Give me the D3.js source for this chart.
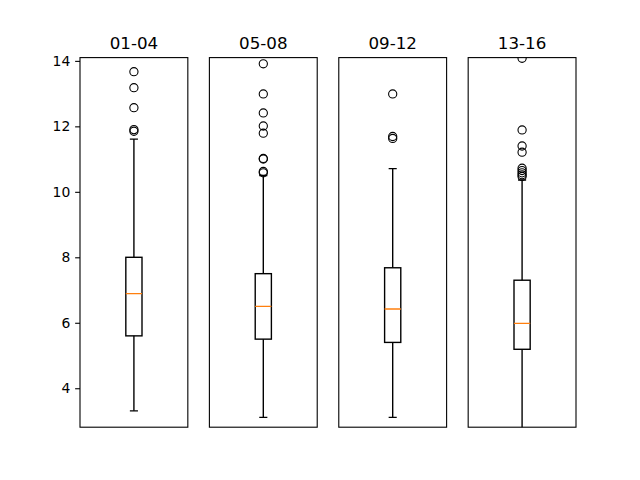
<!DOCTYPE html>
<html>
<head>
<meta charset="utf-8">
<script src="https://cdn.jsdelivr.net/npm/d3@7"></script>
<style>
  body { margin: 0; background: #fff; }
  svg { display: block; }
  text { font-family: "DejaVu Sans", sans-serif; fill: #000; }
</style>
</head>
<body>
<svg id="chart" width="640" height="480"></svg>
<script>
// ---- data ----
const groups = ["01-04", "05-08", "09-12", "13-16"];
const whiskerLow  = [3.31, 3.11, 3.11, 2.70];
const q1          = [5.60, 5.50, 5.40, 5.19];
const medians     = [6.89, 6.50, 6.42, 5.98];
const q3          = [8.00, 7.50, 7.68, 7.30];
const whiskerHigh = [11.61, 10.50, 10.71, 10.36];
const fliers = [
  [11.85, 11.90, 12.57, 13.18, 13.67],
  [10.58, 10.62, 11.00, 11.02, 11.79, 12.01, 12.41, 12.99, 13.91],
  [11.63, 11.69, 12.99],
  [10.47, 10.52, 10.58, 10.65, 10.72, 11.21, 11.40, 11.89, 14.08]
];
const yTicks = [4, 6, 8, 10, 12, 14];
const yDomain = [2.81, 14.10];

// ---- layout ----
const mLeft = 80, mRight = 576, mTop = 57.6, mBottom = 427.2;
const n = groups.length;
const wspace = 0.2;
const pw = (mRight - mLeft) / (n + (n - 1) * wspace);
const gap = pw * wspace;

const svg = d3.select("#chart");
const y = d3.scaleLinear().domain(yDomain).range([mBottom, mTop]);

svg.append("defs").selectAll("clipPath").data(groups).join("clipPath")
  .attr("id", (d, i) => "clip" + i)
  .append("rect")
  .attr("x", (d, i) => mLeft + i * (pw + gap))
  .attr("y", mTop).attr("width", pw).attr("height", mBottom - mTop);

groups.forEach((g, i) => {
  const x0 = mLeft + i * (pw + gap);
  const x = d3.scaleLinear().domain([0.5, 1.5]).range([x0, x0 + pw]);
  const panel = svg.append("g");
  const plot = panel.append("g").attr("clip-path", `url(#clip${i})`);
  const cx = x(1);
  const bw = x(1 + 0.075) - x(1 - 0.075);
  const cw = bw / 2;
  const lw = 1.39;

  // whiskers
  plot.append("line").attr("x1", cx).attr("x2", cx)
    .attr("y1", y(q1[i])).attr("y2", y(whiskerLow[i]))
    .attr("stroke", "#000").attr("stroke-width", lw);
  plot.append("line").attr("x1", cx).attr("x2", cx)
    .attr("y1", y(q3[i])).attr("y2", y(whiskerHigh[i]))
    .attr("stroke", "#000").attr("stroke-width", lw);
  // caps
  [whiskerLow[i], whiskerHigh[i]].forEach(v => {
    plot.append("line").attr("x1", cx - cw / 2).attr("x2", cx + cw / 2)
      .attr("y1", y(v)).attr("y2", y(v))
      .attr("stroke", "#000").attr("stroke-width", lw);
  });
  // box
  plot.append("rect").attr("x", cx - bw / 2).attr("width", bw)
    .attr("y", y(q3[i])).attr("height", y(q1[i]) - y(q3[i]))
    .attr("fill", "none").attr("stroke", "#000").attr("stroke-width", lw);
  // median
  plot.append("line").attr("x1", cx - bw / 2).attr("x2", cx + bw / 2)
    .attr("y1", y(medians[i])).attr("y2", y(medians[i]))
    .attr("stroke", "#ff7f0e").attr("stroke-width", lw);
  // fliers
  plot.selectAll("circle.f").data(fliers[i]).join("circle")
    .attr("class", "f").attr("cx", cx).attr("cy", d => y(d)).attr("r", 4.1)
    .attr("fill", "none").attr("stroke", "#000").attr("stroke-width", 1.1);

  // frame
  panel.append("rect").attr("x", x0).attr("y", mTop)
    .attr("width", pw).attr("height", mBottom - mTop)
    .attr("fill", "none").attr("stroke", "#000").attr("stroke-width", 1.1);

  // title
  panel.append("text").attr("x", cx).attr("y", mTop - 8.3)
    .attr("text-anchor", "middle").attr("font-size", "16.7px").text(g);

  if (i === 0) {
    const axis = d3.axisLeft(y).tickValues(yTicks).tickSize(4.86).tickPadding(4.86)
      .tickFormat(d3.format("d"));
    const ag = panel.append("g").attr("transform", `translate(${x0},0)`).call(axis);
    ag.select(".domain").remove();
    ag.selectAll(".tick line").attr("stroke", "#000").attr("stroke-width", 1.1);
    ag.selectAll(".tick text").attr("font-size", "13.9px")
      .attr("font-family", "DejaVu Sans, sans-serif").attr("fill", "#000");
  }
});
</script>
</body>
</html>
